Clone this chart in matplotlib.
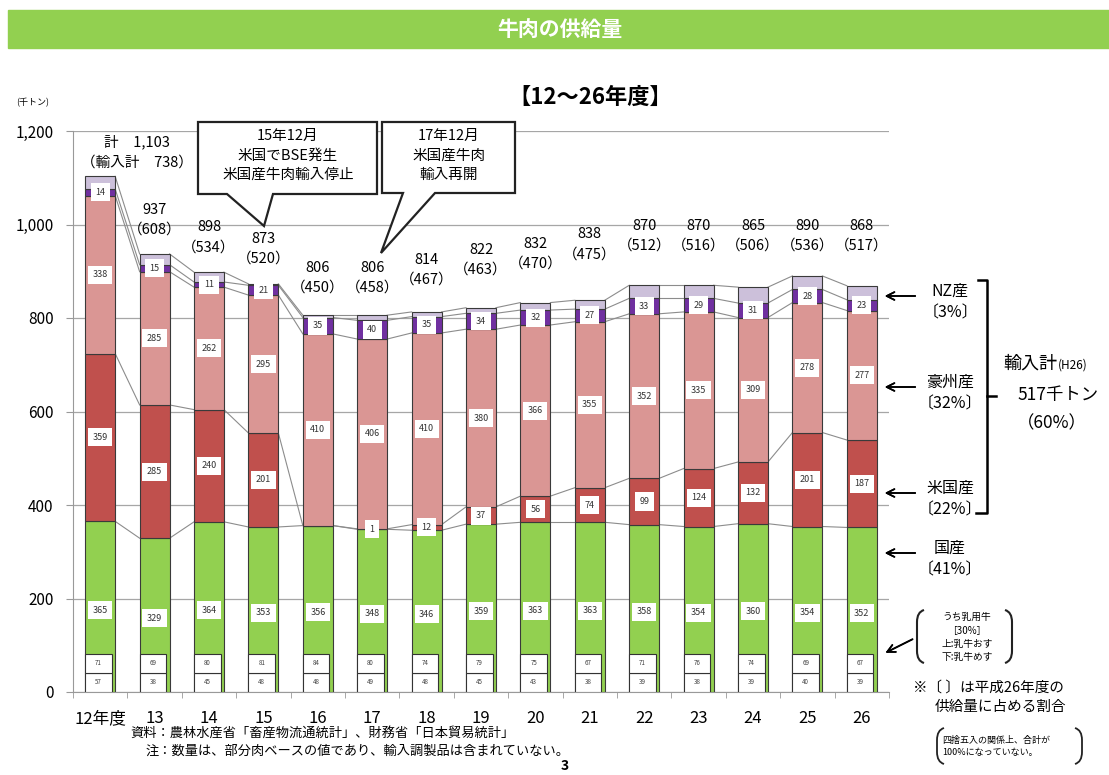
import matplotlib
matplotlib.use('Agg')
import matplotlib.pyplot as plt
from matplotlib.patches import Rectangle, Polygon, PathPatch
from matplotlib.path import Path
from matplotlib.lines import Line2D
import numpy as np

plt.rcParams['font.family'] = ['Noto Sans CJK JP', 'DejaVu Sans']

# 年度別の牛肉供給量（千トン）
years = ['12年度', '13', '14', '15', '16', '17', '18', '19', '20', '21', '22', '23', '24', '25', '26']
domestic = [365, 329, 364, 353, 356, 348, 346, 359, 363, 363, 358, 354, 360, 354, 352]
us = [359, 285, 240, 201, 0, 1, 12, 37, 56, 74, 99, 124, 132, 201, 187]
aus = [338, 285, 262, 295, 410, 406, 410, 380, 366, 355, 352, 335, 309, 278, 277]
nz = [14, 15, 11, 21, 35, 40, 35, 34, 32, 27, 33, 29, 31, 28, 23]
other = [27, 23, 21, 3, 5, 11, 10, 12, 16, 19, 28, 28, 34, 29, 30]
total = [1103, 937, 898, 873, 806, 806, 814, 822, 832, 838, 870, 870, 865, 890, 868]
imports = [738, 608, 534, 520, 450, 458, 467, 463, 470, 475, 512, 516, 506, 536, 517]
dairy_male = [71, 69, 80, 81, 84, 80, 74, 79, 75, 67, 71, 76, 74, 69, 67]
dairy_female = [57, 38, 45, 48, 48, 49, 48, 45, 43, 38, 39, 38, 39, 40, 39]

# 合計ラベルの高さ（千トン目盛）
label_y = [1176, 1032, 994, 970, 908, 908, 925, 946, 959, 979, 997, 997, 997, 997, 997]

colors = ['#92D050', '#C0504D', '#DA9694', '#7030A0', '#CCC0DA']

W, H = 1109, 775
fig = plt.figure(figsize=(W / 100, H / 100), dpi=100)


def fp(x, y):
    # ピクセル位置(左上原点) -> figure座標
    return (x / W, 1 - y / H)


def fline(pts, lw=1.0, color='black'):
    xs = [p[0] / W for p in pts]
    ys = [1 - p[1] / H for p in pts]
    fig.add_artist(Line2D(xs, ys, lw=lw, color=color, transform=fig.transFigure))


def ftext(x, y, s, size=10, **kw):
    fig.text(x / W, 1 - y / H, s, fontsize=size, **kw)


def farrow(tail, tip, lw=1.2):
    fig.add_artist(plt.annotate('', xy=fp(*tip), xytext=fp(*tail), xycoords='figure fraction',
                                textcoords='figure fraction',
                                arrowprops=dict(arrowstyle='->', lw=lw, color='black',
                                                mutation_scale=14)))


def fparen(x, top, bottom, side='left', lw=1.5):
    d = 7 if side == 'left' else -7
    verts = [(x + d, top), (x, top + 2), (x, top + 12), (x, bottom - 12), (x, bottom - 2), (x + d, bottom)]
    verts = [fp(*v) for v in verts]
    codes = [Path.MOVETO, Path.CURVE3, Path.CURVE3, Path.LINETO, Path.CURVE3, Path.CURVE3]
    fig.add_artist(PathPatch(Path(verts, codes), fill=False, lw=lw, color='#222222',
                             transform=fig.transFigure))


# タイトル帯
fig.add_artist(Rectangle(fp(8, 48), (W - 8) / W, 38 / H, color='#92D050',
                         transform=fig.transFigure, zorder=0))
ftext(560, 29, '牛肉の供給量', 15, color='white', fontweight='bold', ha='center', va='center')
ftext(590, 97, '【12～26年度】', 16, fontweight='bold', ha='center', va='center')
ftext(33, 103, '(千トン)', 6.5, ha='center', va='center')

ax = fig.add_axes([73 / W, 1 - 692 / H, (889 - 73) / W, (692 - 131) / H])
x = np.arange(len(years))
bw = 0.55

bottom = np.zeros(len(years))
levels = []
for vals, c in zip([domestic, us, aus, nz, other], colors):
    ax.bar(x, vals, bw, bottom=bottom, color=c, edgecolor='#3a3a3a', linewidth=0.8, zorder=3)
    bottom = bottom + np.array(vals)
    levels.append(bottom.copy())

# 系列線
for lvl in levels:
    for i in range(len(x) - 1):
        ax.plot([x[i] + bw / 2, x[i + 1] - bw / 2], [lvl[i], lvl[i + 1]],
                color='#8c8c8c', lw=0.8, zorder=2)

box = dict(boxstyle='square,pad=0.5', fc='white', ec='none')
for i in range(len(x)):
    d, u, a, n = domestic[i], us[i], aus[i], nz[i]
    ax.text(x[i], d * 0.48, str(d), fontsize=6.5, ha='center', va='center', bbox=box, zorder=5,
            color='#333333')
    if u > 0:
        ax.text(x[i], d + u / 2, str(u), fontsize=6.5, ha='center', va='center', bbox=box,
                zorder=5, color='#333333')
    ax.text(x[i], d + u + a / 2, str(a), fontsize=6.5, ha='center', va='center', bbox=box,
            zorder=5, color='#333333')
    ax.text(x[i], d + u + a + n / 2, str(n), fontsize=6.5, ha='center', va='center', bbox=box,
            zorder=5, color='#333333')

    # うち乳用牛（上：おす、下：めす）
    for j, v in enumerate([dairy_female[i], dairy_male[i]]):
        ax.add_patch(Rectangle((x[i] - bw / 2, j * 41), bw - 0.06, 41, fc='white',
                               ec='#333333', lw=0.8, zorder=4))
        ax.text(x[i] - 0.03, j * 41 + 20.5, str(v), fontsize=4.5, ha='center', va='center',
                zorder=5, color='#444444')

    # 合計・輸入計
    if i == 0:
        ax.text(0.68, label_y[i], f'計　{total[i]:,}', fontsize=10.5, ha='center', va='center')
        ax.text(0.68, label_y[i] - 43, f'（輸入計　{imports[i]}）', fontsize=10.5,
                ha='center', va='center')
    else:
        ax.text(x[i], label_y[i], f'{total[i]:,}', fontsize=10.5, ha='center', va='center')
        ax.text(x[i], label_y[i] - 43, f'（{imports[i]}）', fontsize=10.5,
                ha='center', va='center')

ax.set_xlim(-0.5, 14.5)
ax.set_ylim(0, 1200)
ax.set_yticks(range(0, 1201, 200))
ax.set_yticklabels([f'{v:,}' for v in range(0, 1201, 200)], fontsize=11)
ax.set_xticks(x)
ax.set_xticklabels(years, fontsize=12)
ax.set_xticks(np.arange(-0.5, 14.6, 1), minor=True)
ax.tick_params(axis='x', which='major', length=0, pad=13)
ax.tick_params(axis='x', which='minor', length=4, color='#999999')
ax.tick_params(axis='y', length=5, color='#999999', pad=9)
ax.grid(axis='y', color='#a6a6a6', lw=0.9, zorder=0)
ax.set_axisbelow(True)
for s in ['top', 'right']:
    ax.spines[s].set_visible(False)
for s in ['left', 'bottom']:
    ax.spines[s].set_color('#999999')

# 吹き出し
call1 = [(198, 122), (377, 122), (377, 194), (273, 194), (264, 226), (227, 194), (198, 194)]
call2 = [(382, 122), (515, 122), (515, 193), (435, 193), (381, 253), (403, 193), (382, 193)]
for pts in [call1, call2]:
    fig.add_artist(Polygon([fp(*p) for p in pts], closed=True, fc='white', ec='#222222',
                           lw=1.6, transform=fig.transFigure, zorder=6))
for k, s in enumerate(['15年12月', '米国でBSE発生', '米国産牛肉輸入停止']):
    ftext(288, 136 + k * 19.5, s, 10.5, ha='center', va='center', zorder=7)
for k, s in enumerate(['17年12月', '米国産牛肉', '輸入再開']):
    ftext(449, 136 + k * 19.5, s, 10.5, ha='center', va='center', zorder=7)

# 右側の注記
for yy, name, pct in [(296, 'NZ産', '〔3%〕'), (387, '豪州産', '〔32%〕'),
                      (493, '米国産', '〔22%〕'), (553, '国産', '〔41%〕')]:
    farrow((918, yy), (882, yy))
    ftext(950, yy - 5, name, 11.5, ha='center', va='center')
    ftext(950, yy + 17, pct, 11.5, ha='center', va='center')

fline([(978, 280), (987, 280), (987, 513), (976, 513)], lw=1.8)
fline([(987, 396), (996, 396)], lw=1.8)
ftext(1003, 364, '輸入計', 13, ha='left', va='center')
ftext(1058, 365, '(H26)', 8.5, ha='left', va='center')
ftext(1017, 395, '517千トン', 12.5, ha='left', va='center')
ftext(1017, 423, '（60%）', 12.5, ha='left', va='center')

farrow((915, 638), (883, 654))
fparen(917, 610, 663, 'left')
fparen(1012, 610, 663, 'right')
for yy, s in [(617, 'うち乳用牛'), (631, '［30%］'), (644, '上:乳牛おす'), (657, '下:乳牛めす')]:
    ftext(967, yy, s, 7, ha='center', va='center')

ftext(913, 688, '※〔 〕は平成26年度の', 10.5, ha='left', va='center')
ftext(935, 707, '供給量に占める割合', 10.5, ha='left', va='center')
fparen(937, 728, 764, 'left', lw=1.3)
fparen(1082, 728, 764, 'right', lw=1.3)
ftext(942, 740, '四捨五入の関係上、合計が', 6.5, ha='left', va='center')
ftext(942, 753, '100%になっていない。', 6.5, ha='left', va='center')

# 出典・注
ftext(130, 733, '資料：農林水産省「畜産物流通統計」、財務省「日本貿易統計」', 9.5, ha='left', va='center')
ftext(146, 751, '注：数量は、部分肉ベースの値であり、輸入調製品は含まれていない。', 9.5,
      ha='left', va='center')
ftext(565, 766, '3', 10, ha='center', va='center', fontweight='bold')

fig.savefig('out.png', dpi=100)
